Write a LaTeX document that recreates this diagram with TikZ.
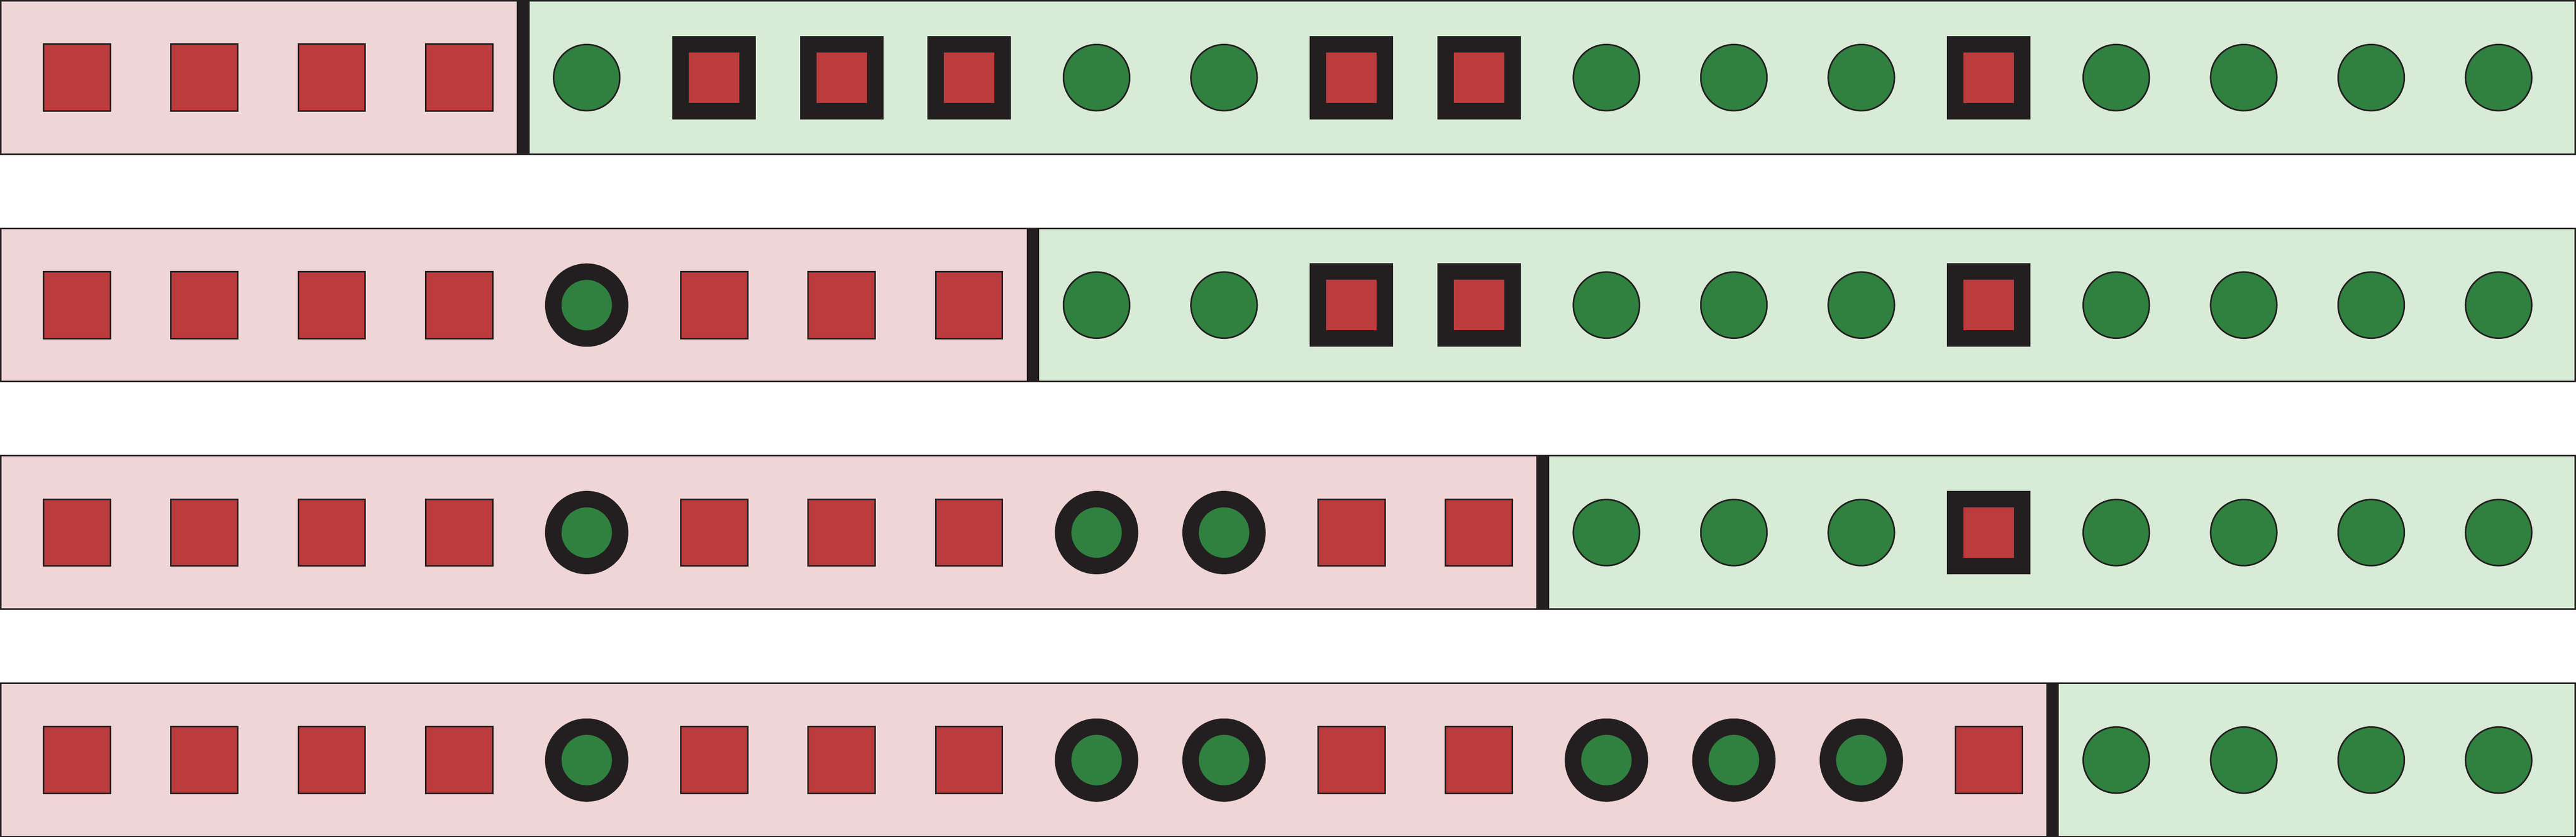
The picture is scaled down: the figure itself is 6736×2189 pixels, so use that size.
\documentclass[tikz,border=0pt]{standalone}
\usetikzlibrary{shapes.geometric}
\definecolor{pinkbg}{HTML}{F0D5D6}
\definecolor{greenbg}{HTML}{D8EBD6}
\definecolor{redsq}{HTML}{BC3B3D}
\definecolor{greenci}{HTML}{30813F}
\definecolor{darkk}{HTML}{231F20}
\tikzset{
  sq/.style={rectangle, inner sep=0pt, minimum size=17.5mm, fill=redsq, draw=darkk, line width=0.4mm},
  ci/.style={circle, inner sep=0pt, minimum size=17.3mm, fill=greenci, draw=darkk, line width=0.4mm},
  fsq/.style={rectangle, inner sep=0pt, minimum size=17.5mm, fill=redsq, draw=darkk, line width=4.3mm},
  fci/.style={circle, inner sep=0pt, minimum size=17.5mm, fill=greenci, draw=darkk, line width=4.3mm},
  rowframe/.style={draw=darkk, line width=0.4mm}
}
\begin{document}
\begin{tikzpicture}[x=0.1mm, y=-0.1mm]
\useasboundingbox (0,0) rectangle (6736,2189);
\fill[white] (0,0) rectangle (6736,2189);
% rows: top / divider x
\foreach \tp/\dx in {2/1368, 597/2701, 1192/4034, 1787/5367}{
  \fill[pinkbg] (2,\tp) rectangle (\dx,\tp+401);
  \fill[greenbg] (\dx,\tp) rectangle (6734,\tp+401);
  \draw[rowframe] (2,\tp) rectangle (6734,\tp+401);
  \fill[darkk] (\dx-16.5,\tp) rectangle (\dx+16.5,\tp+401);
}
% row 1
\foreach \t [count=\i from 0] in {sq,sq,sq,sq,ci,fsq,fsq,fsq,ci,ci,fsq,fsq,ci,ci,ci,fsq,ci,ci,ci,ci}
  \node[\t] (ra\i) at ({201+333.3*\i},203) {};
% row 2
\foreach \t [count=\i from 0] in {sq,sq,sq,sq,fci,sq,sq,sq,ci,ci,fsq,fsq,ci,ci,ci,fsq,ci,ci,ci,ci}
  \node[\t] (rb\i) at ({201+333.3*\i},798) {};
% row 3
\foreach \t [count=\i from 0] in {sq,sq,sq,sq,fci,sq,sq,sq,fci,fci,sq,sq,ci,ci,ci,fsq,ci,ci,ci,ci}
  \node[\t] (rc\i) at ({201+333.3*\i},1393) {};
% row 4
\foreach \t [count=\i from 0] in {sq,sq,sq,sq,fci,sq,sq,sq,fci,fci,sq,sq,fci,fci,fci,sq,ci,ci,ci,ci}
  \node[\t] (rd\i) at ({201+333.3*\i},1988) {};
\end{tikzpicture}
\end{document}
